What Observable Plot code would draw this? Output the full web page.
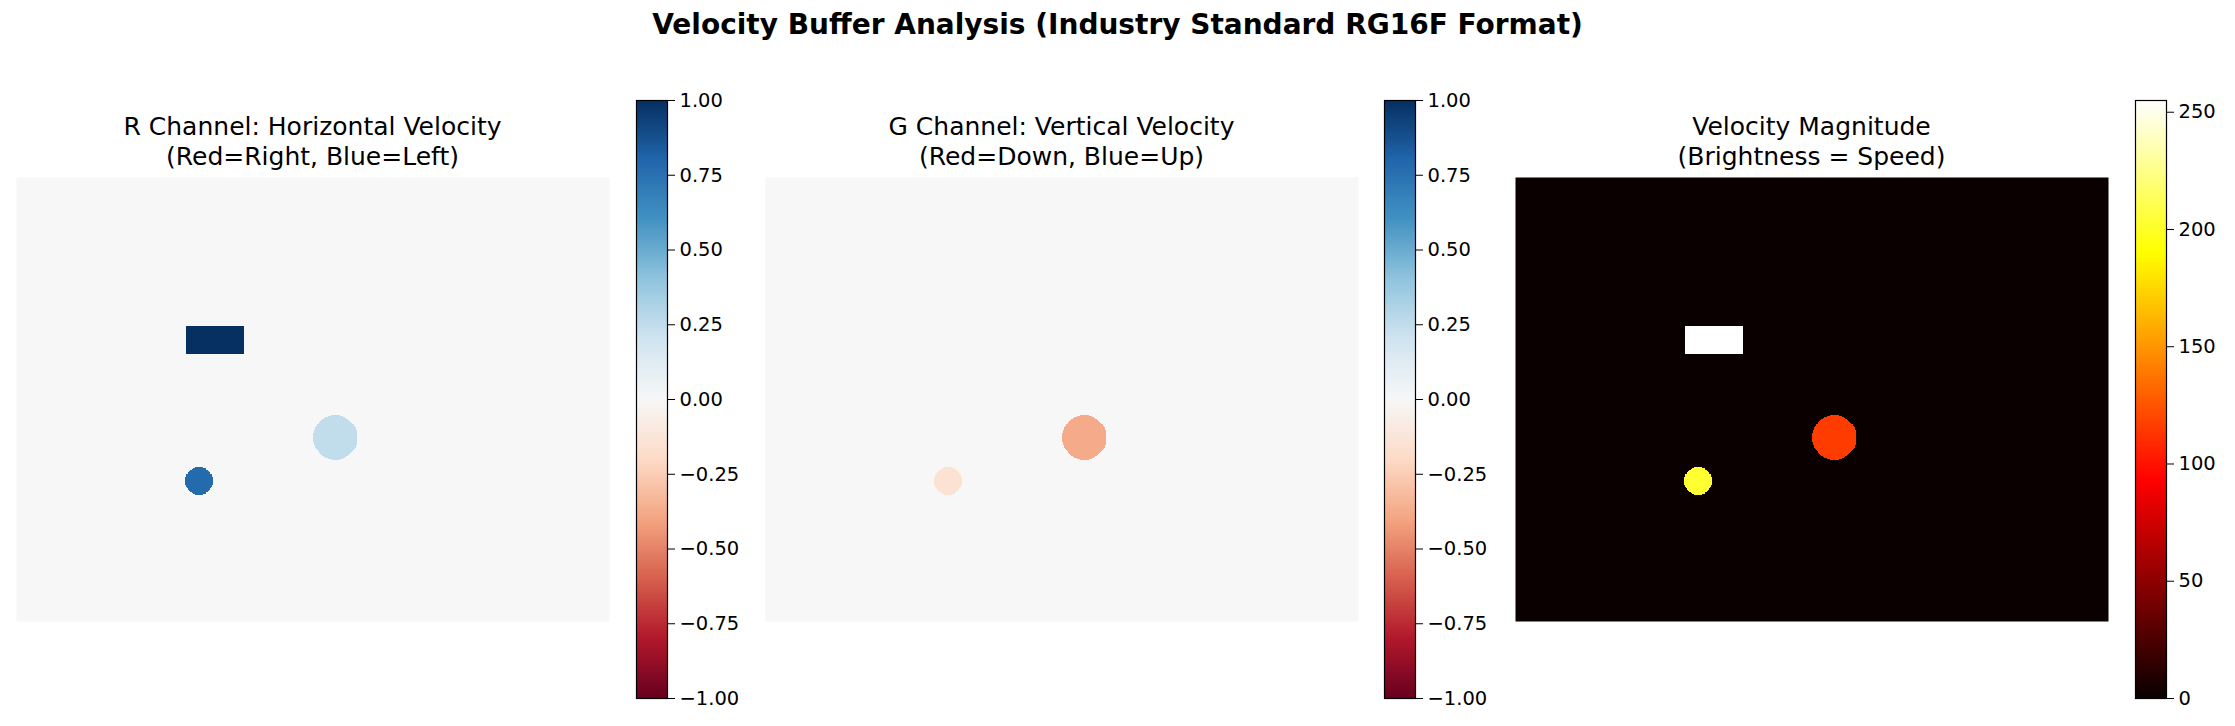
<!DOCTYPE html>
<html>
<head>
<meta charset="utf-8">
<script src="https://cdn.jsdelivr.net/npm/d3@7"></script>
<script src="https://cdn.jsdelivr.net/npm/@observablehq/plot@0.6"></script>
<style>
  body { margin: 0; background: #fff; font-family: "DejaVu Sans", sans-serif; }
  #fig { position: relative; width: 2235px; height: 726px; }
  .abs { position: absolute; }
  .ttl { position: absolute; text-align: center; font-size: 25px; line-height: 30px; color: #000; }
</style>
</head>
<body>
<div id="fig"></div>
<script>
// velocity buffer: 640x480, shapes with R (horizontal) and G (vertical) velocity
const imgW = 640, imgH = 480
const rects = [{x1: 183, x2: 246, y1: 160, y2: 191, r: 1.0, g: 0.0}]
const circles = [
  {cx: 344, cy: 281, rad: 24, r: 0.25, g: -0.38},
  {cx: 197, cy: 328, rad: 15, r: 0.78, g: -0.15}
]
const rdbuTicks = [-1, -0.75, -0.5, -0.25, 0, 0.25, 0.5, 0.75, 1]
const hotTicks = [0, 50, 100, 150, 200, 250]
const rdbuColors = ["#67001f", "#b2182b", "#d6604d", "#f4a582", "#fddbc7", "#f7f7f7", "#d1e5f0", "#92c5de", "#4393c3", "#2166ac", "#053061"]
const titles = [
  "R Channel: Horizontal Velocity\n(Red=Right, Blue=Left)",
  "G Channel: Vertical Velocity\n(Red=Down, Blue=Up)",
  "Velocity Magnitude\n(Brightness = Speed)"
]

function sample(x, y) {
  for (const c of circles) if ((x - c.cx) ** 2 + (y - c.cy) ** 2 <= c.rad ** 2) return c
  for (const r of rects) if (x >= r.x1 && x < r.x2 && y >= r.y1 && y < r.y2) return r
  return {r: 0, g: 0}
}
const channel = {
  r: (x, y) => sample(x, y).r,
  g: (x, y) => sample(x, y).g,
  m: (x, y) => { const s = sample(x, y); return Math.min(255, Math.hypot(s.r, s.g) * 255) }
}
const rdbu = {type: "linear", domain: d3.range(11).map(i => -1 + i * 0.2), range: rdbuColors}
const hot = {type: "linear", domain: [0, 93, 190, 255], range: ["#0a0000", "#ff0000", "#ffff00", "#ffffff"]}
const font = {fontFamily: "DejaVu Sans", fontSize: "19.5px", color: "#000", background: "transparent", overflow: "visible"}

const fig = document.getElementById("fig")
function place(node, left, top) {
  node.classList.add("abs"); node.style.left = left + "px"; node.style.top = top + "px"
  fig.appendChild(node)
}

const fmt2 = d => d3.format(".2f")(d).replace("-", "\u2212")
const panels = [
  {fn: channel.r, color: rdbu, ticks: rdbuTicks, fmt: fmt2, left: 16, cb: 636, dom: [-1, 1]},
  {fn: channel.g, color: rdbu, ticks: rdbuTicks, fmt: fmt2, left: 765, cb: 1384, dom: [-1, 1]},
  {fn: channel.m, color: hot, ticks: hotTicks, fmt: d => String(d), left: 1515, cb: 2135, dom: [0, 255]}
]

panels.forEach((p, i) => {
  const img = Plot.plot({
    width: 593, height: 444, margin: 0,
    x: {domain: [0, imgW], axis: null},
    y: {domain: [0, imgH], reverse: true, axis: null},
    color: p.color,
    style: font,
    marks: [Plot.raster({fill: p.fn, x1: 0, x2: imgW, y1: 0, y2: imgH, width: imgW, height: imgH, imageRendering: "pixelated"})]
  })
  place(img, p.left, 177)

  const cb = Plot.plot({
    width: 31 + 80, height: 598 + 30, marginLeft: 0, marginRight: 80, marginTop: 15, marginBottom: 15,
    x: {domain: [0, 1], axis: null},
    y: {domain: p.dom, axis: "right", ticks: p.ticks, tickFormat: p.fmt, tickSize: 7, tickPadding: 5, label: null},
    color: p.color,
    style: font,
    marks: [
      Plot.raster({fill: (x, y) => y, x1: 0, x2: 1, y1: p.dom[0], y2: p.dom[1], width: 1, height: 400}),
      Plot.frame({stroke: "#000", strokeWidth: 1.2})
    ]
  })
  place(cb, p.cb, 85)

  const t = document.createElement("div")
  t.className = "ttl"
  t.style.left = (p.left) + "px"; t.style.width = "593px"; t.style.top = "112px"
  t.innerHTML = titles[i].replace("\n", "<br>")
  fig.appendChild(t)
})

const main = document.createElement("div")
main.className = "ttl"
main.style.cssText += "left:0;width:2235px;top:10px;font-weight:bold;font-size:28px;"
main.textContent = "Velocity Buffer Analysis (Industry Standard RG16F Format)"
fig.appendChild(main)
</script>
</body>
</html>
